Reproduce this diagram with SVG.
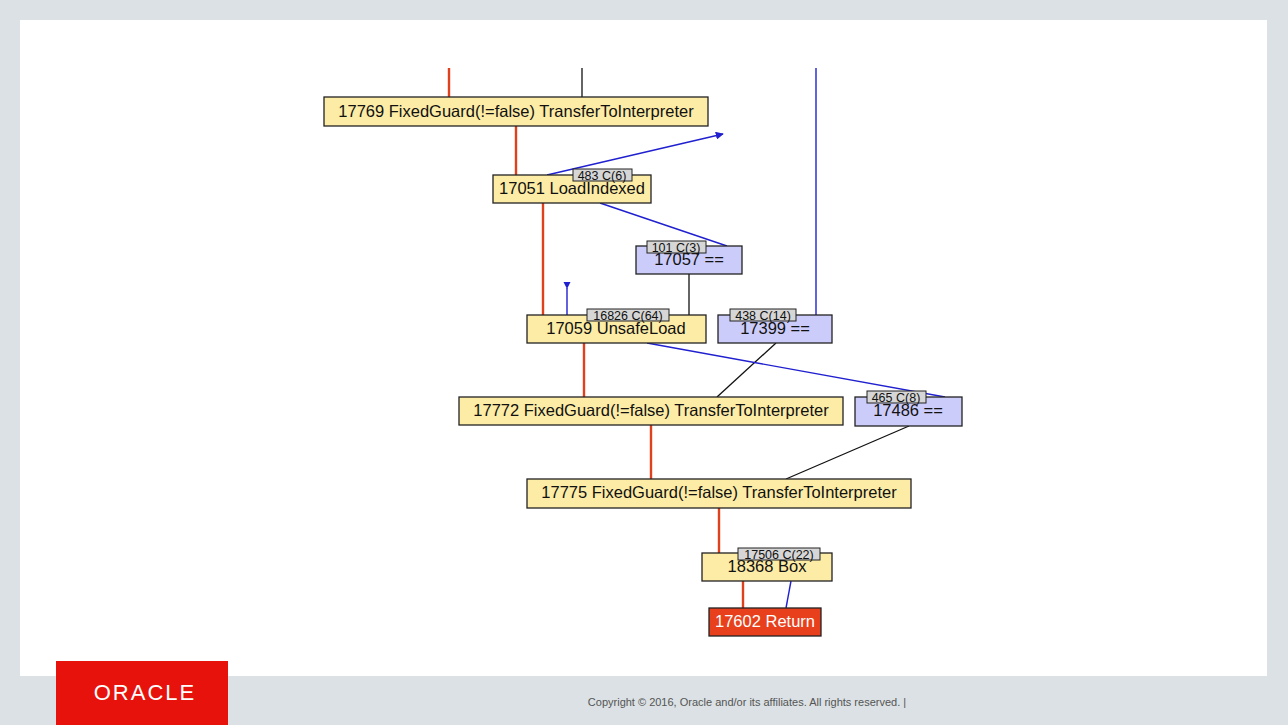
<svg xmlns="http://www.w3.org/2000/svg" width="1288" height="725" viewBox="0 0 1288 725">
<defs>
<style>
.nt{font-family:"Liberation Sans",Arial,sans-serif;font-size:16.5px;fill:#111;text-anchor:middle}
.y{fill:#fdeca6;stroke:#222;stroke-width:1.3}
.b{fill:#ccccfa;stroke:#222;stroke-width:1.3}
.lb{fill:#d6d6d6;stroke:#222;stroke-width:1}
.lt{font-family:"Liberation Sans",Arial,sans-serif;font-size:12.5px;fill:#111;text-anchor:middle}
.r{stroke:#e0401c;stroke-width:2.4;fill:none}
.k{stroke:#111;stroke-width:1.3;fill:none}
.bl{stroke:#2020d0;stroke-width:1.4;fill:none}
</style>
<marker id="ah" viewBox="0 0 10 10" refX="9" refY="5" markerWidth="8" markerHeight="8" orient="auto" markerUnits="userSpaceOnUse">
<path d="M0,0 L10,5 L0,10 z" fill="#2020d0"/>
</marker>
</defs>
<rect width="1288" height="725" fill="#dbe1e4"/>
<rect x="20" y="20" width="1247" height="656" fill="#ffffff"/>

<g id="connectors">
<line class="r" x1="449" y1="68" x2="449" y2="97"/>
<line class="k" x1="582" y1="68" x2="582" y2="97"/>
<line class="bl" x1="816" y1="68" x2="816" y2="315"/>
<line class="r" x1="516" y1="126" x2="516" y2="175"/>
<line class="bl" x1="547" y1="175" x2="723" y2="134" marker-end="url(#ah)"/>
<line class="bl" x1="600" y1="203" x2="727" y2="246"/>
<line class="r" x1="543" y1="203" x2="543" y2="315"/>
<line class="k" x1="689" y1="274" x2="689" y2="315"/>
<line class="bl" x1="567" y1="288" x2="567" y2="315"/>
<path d="M563.5,282 L570.5,282 L567,289 z" fill="#2020d0"/>
<line class="r" x1="584" y1="343" x2="584" y2="397"/>
<line class="k" x1="776" y1="343" x2="717" y2="397"/>
<line class="bl" x1="647" y1="343" x2="945" y2="397"/>
<line class="r" x1="651" y1="425" x2="651" y2="479"/>
<line class="k" x1="909" y1="426" x2="786" y2="479"/>
<line class="r" x1="719" y1="508" x2="719" y2="553"/>
<line class="r" x1="743" y1="581" x2="743" y2="608"/>
<line class="bl" x1="791" y1="581" x2="786" y2="608"/>
</g>

<g id="n17769">
<rect class="y" x="324" y="97" width="384" height="29"/>
<text class="nt" x="516" y="117">17769 FixedGuard(!=false) TransferToInterpreter</text>
</g>
<g id="n17051">
<rect class="y" x="493" y="175" width="158" height="28"/>
<text class="nt" x="572" y="194">17051 LoadIndexed</text>
<rect class="lb" x="573" y="169" width="59" height="12"/>
<text class="lt" x="602" y="180">483 C(6)</text>
</g>
<g id="n17057">
<rect class="b" x="636" y="246" width="106" height="28"/>
<text class="nt" x="689" y="265">17057 ==</text>
<rect class="lb" x="647" y="241" width="59" height="12"/>
<text class="lt" x="676" y="252">101 C(3)</text>
</g>
<g id="n17059">
<rect class="y" x="527" y="315" width="179" height="28"/>
<text class="nt" x="616" y="334">17059 UnsafeLoad</text>
<rect class="lb" x="587" y="309" width="82" height="12"/>
<text class="lt" x="628" y="320">16826 C(64)</text>
</g>
<g id="n17399">
<rect class="b" x="718" y="315" width="114" height="28"/>
<text class="nt" x="775" y="334">17399 ==</text>
<rect class="lb" x="730" y="309" width="66" height="12"/>
<text class="lt" x="763" y="320">438 C(14)</text>
</g>
<g id="n17772">
<rect class="y" x="459" y="397" width="384" height="28"/>
<text class="nt" x="651" y="416">17772 FixedGuard(!=false) TransferToInterpreter</text>
</g>
<g id="n17486">
<rect class="b" x="855" y="397" width="107" height="29"/>
<text class="nt" x="908" y="416">17486 ==</text>
<rect class="lb" x="867" y="391" width="59" height="12"/>
<text class="lt" x="896" y="402">465 C(8)</text>
</g>
<g id="n17775">
<rect class="y" x="527" y="479" width="384" height="29"/>
<text class="nt" x="719" y="498">17775 FixedGuard(!=false) TransferToInterpreter</text>
</g>
<g id="n18368">
<rect class="y" x="702" y="553" width="130" height="28"/>
<text class="nt" x="767" y="572">18368 Box</text>
<rect class="lb" x="738" y="548" width="82" height="12"/>
<text class="lt" x="779" y="559">17506 C(22)</text>
</g>
<g id="n17602">
<rect x="709" y="608" width="112" height="28" fill="#e8401c" stroke="#222" stroke-width="1.3"/>
<text class="nt" x="765" y="627" style="fill:#ffffff">17602 Return</text>
</g>

<g id="footer">
<rect x="56" y="661" width="172" height="64" fill="#e8120c"/>
<text x="145" y="700" font-family="Liberation Sans,Arial,sans-serif" font-size="22" fill="#ffffff" text-anchor="middle" letter-spacing="2">ORACLE</text>
<text x="747" y="706" font-family="Liberation Sans,Arial,sans-serif" font-size="11" fill="#555555" text-anchor="middle">Copyright © 2016, Oracle and/or its affiliates. All rights reserved.  |</text>
</g>
</svg>
